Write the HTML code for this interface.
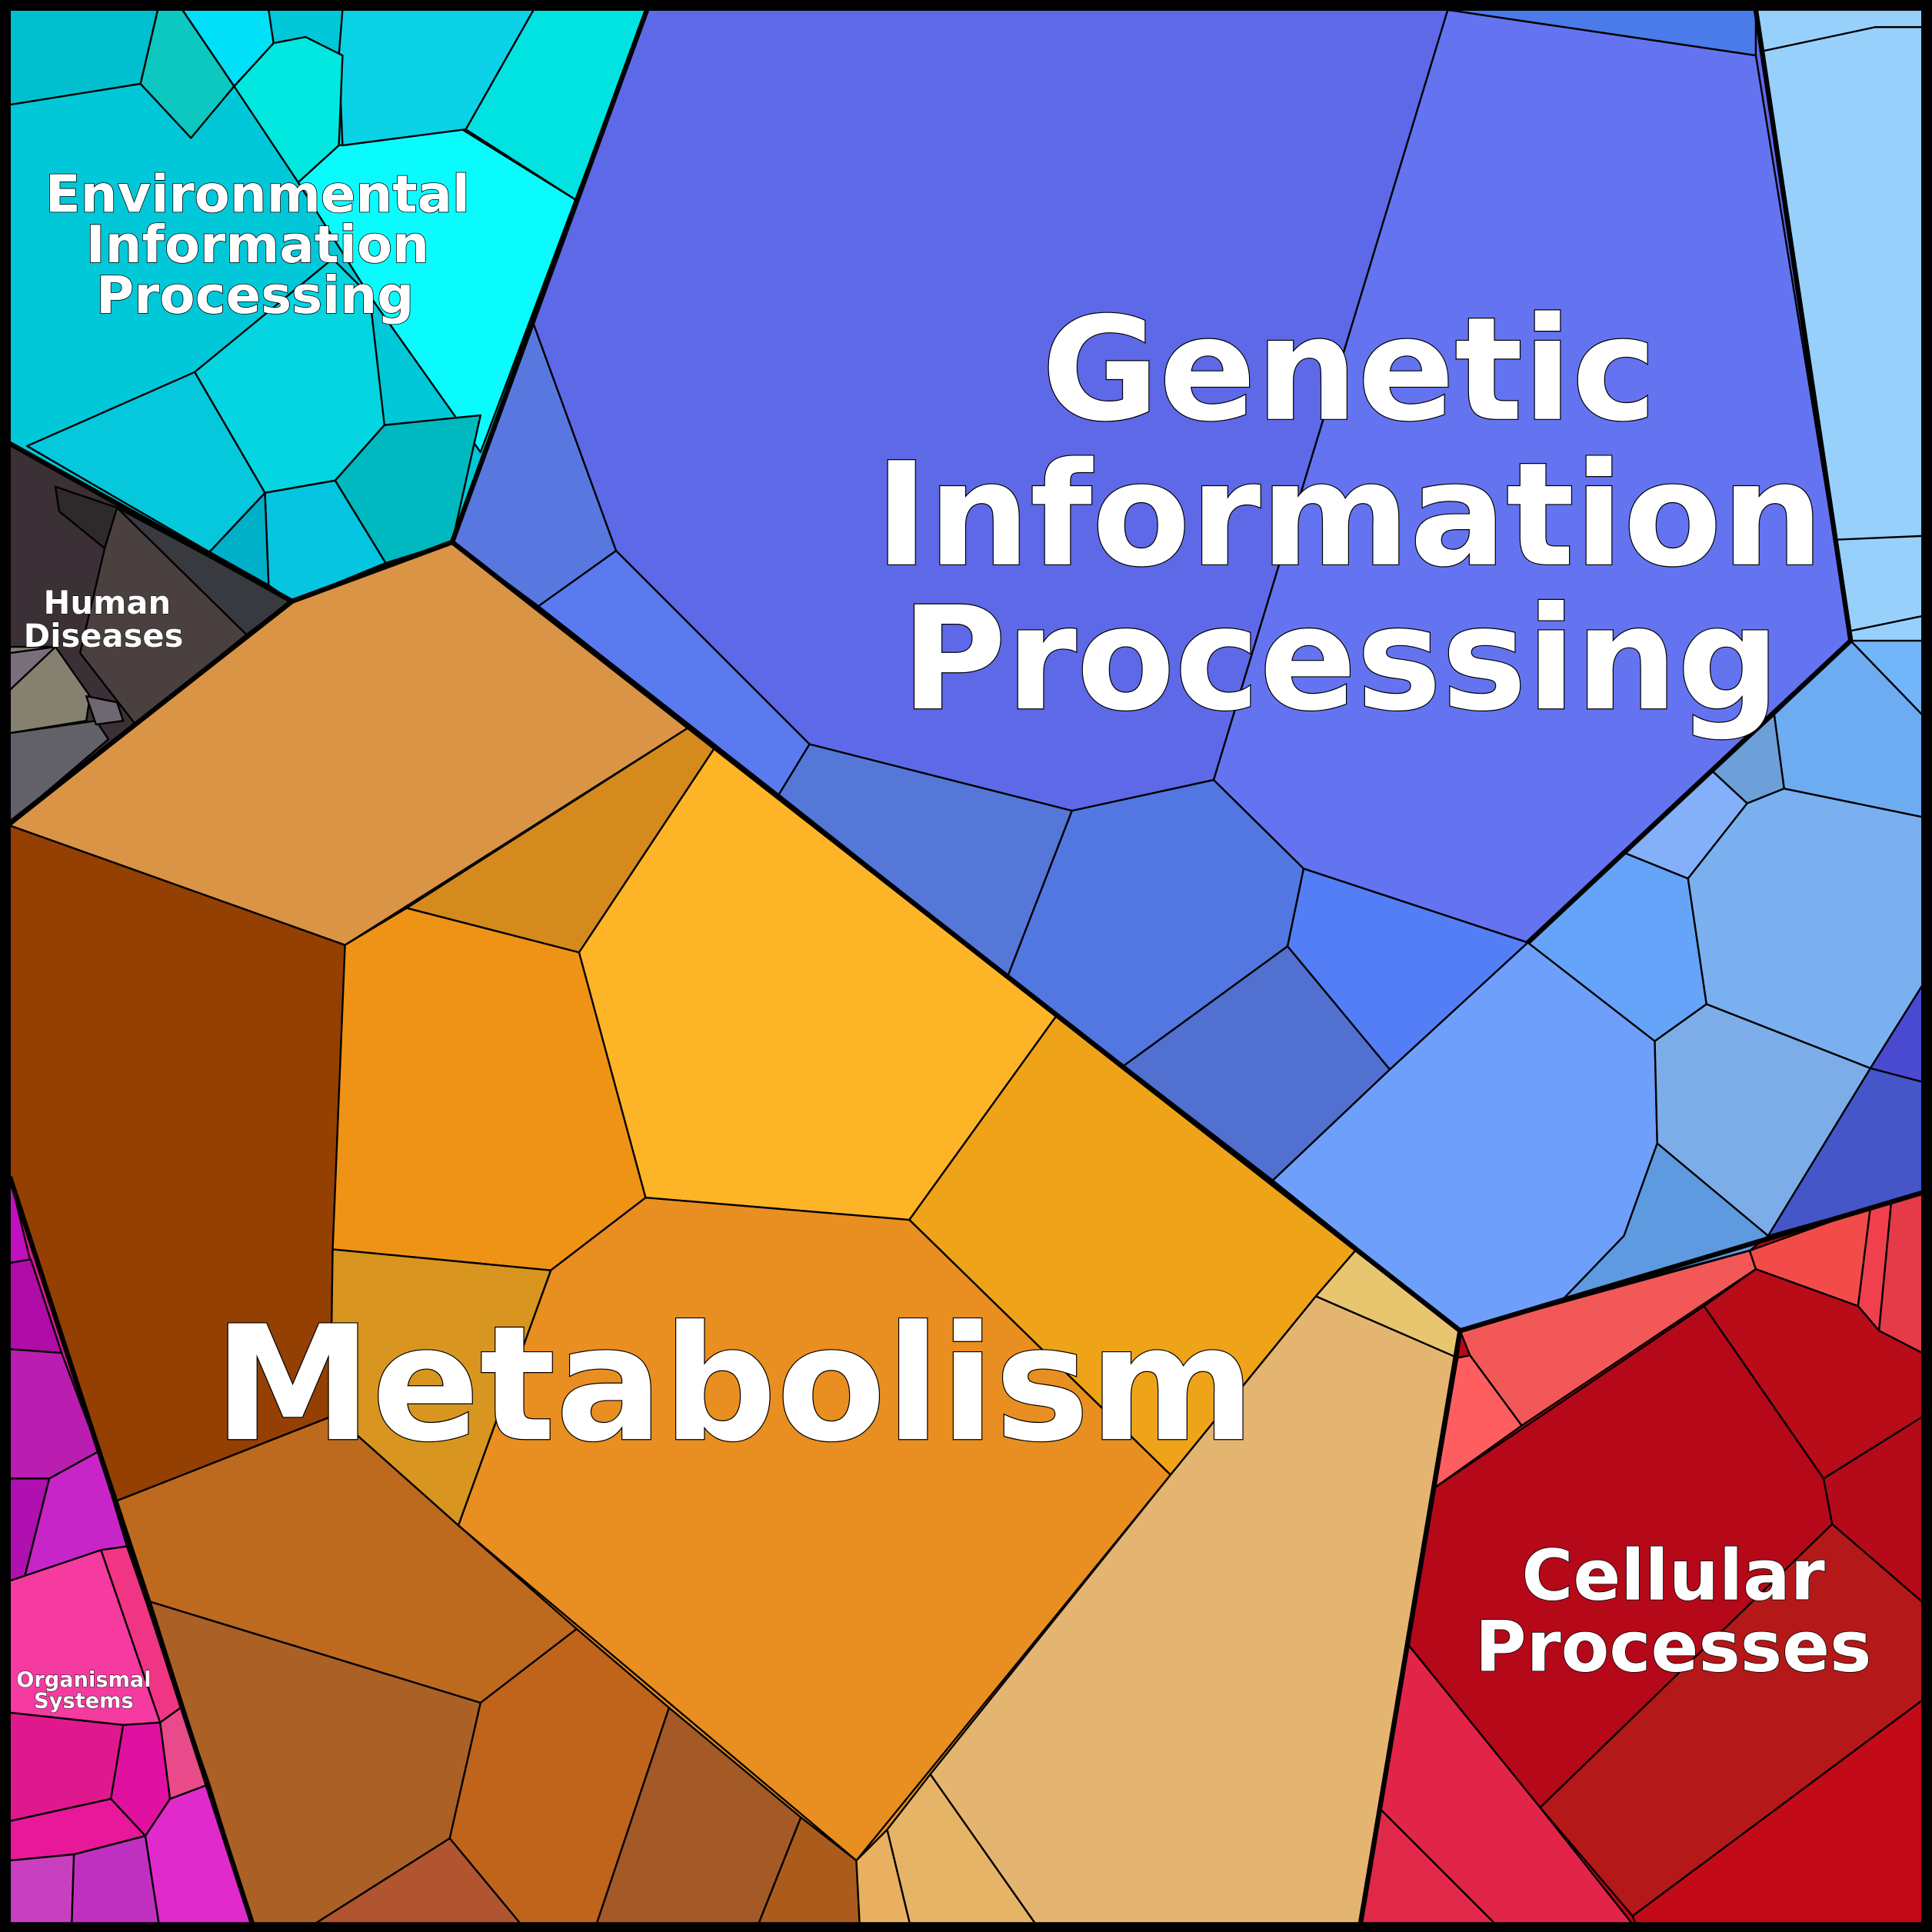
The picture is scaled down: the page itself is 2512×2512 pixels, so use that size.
<!DOCTYPE html>
<html><head><meta charset="utf-8"><style>
html,body{margin:0;padding:0;background:#000;}
svg{display:block;}
text{font-family:"DejaVu Sans","Liberation Sans",sans-serif;font-weight:bold;fill:#fff;stroke:#000;paint-order:stroke;text-anchor:middle;}
</style></head><body>
<svg xmlns="http://www.w3.org/2000/svg" width="2512" height="2512" viewBox="0 0 1568 1568">
<rect x="0" y="0" width="1568" height="1568" fill="#000"/>
<!-- base region fills -->
<polygon fill="#00C8D8" points="8,8 525,8 367,440 237,488 8,360"/>
<polygon fill="#5E69E8" points="525,8 1560,8 1560,968 1185,1080 367,440"/>
<polygon fill="#E98E20" points="8,668 237,488 367,440 1185,1080 1103,1568 207,1568 8,955"/>
<polygon fill="#B50818" points="1185,1080 1560,968 1560,1568 1103,1568"/>
<polygon fill="#E0188E" points="8,955 207,1568 8,1568"/>
<g stroke="#000" stroke-width="1.5" stroke-linejoin="round">
<!-- Environmental -->
<polygon fill="#00C8D8" points="8,8 525,8 367,440 237,488 8,360"/>
<polygon fill="#0AFBFE" points="242,148 275,118 375,105 467,162 390,367 300,240"/>
<polygon fill="#00E3E0" points="378,105 433,8 525,8 467,162"/>
<polygon fill="#0CD2E8" points="278,8 433,8 378,105 278,118 275,45"/>
<polygon fill="#00E8E0" points="190,70 222,35 248,30 278,45 275,118 242,148"/>
<polygon fill="#00E0F8" points="148,8 218,8 222,35 190,70"/>
<polygon fill="#0CC8C0" points="114,68 128,8 148,8 190,70 155,112"/>
<polygon fill="#00C0D0" points="8,8 128,8 114,68 8,85"/>
<polygon fill="#05D5E0" points="158,302 215,400 272,390 312,345 300,240 270,210"/>
<polygon fill="#00B8C0" points="272,390 312,345 390,337 367,440 313,457"/>
<polygon fill="#05C5E0" points="215,400 272,390 313,457 237,488 218,475"/>
<polygon fill="#00B0C8" points="170,448 215,400 218,475"/>
<polygon fill="#05C8DC" points="22,362 158,302 215,400 170,448"/>
<!-- Human Diseases -->
<polygon fill="#3A3035" points="8,360 237,488 8,668"/>
<polygon fill="#2E2A2C" points="45,395 95,412 85,445 48,415"/>
<polygon fill="#4A4040" points="95,412 200,515 110,588 65,530 85,445"/>
<polygon fill="#383A40" points="95,412 237,488 200,515"/>
<polygon fill="#858070" points="8,525 45,525 73,565 70,585 8,595"/>
<polygon fill="#7A6E7C" points="8,530 45,525 8,560"/>
<polygon fill="#626068" points="8,595 78,585 88,600 8,668"/>
<polygon fill="#6E6870" points="70,565 95,570 100,585 78,588"/>
<!-- Metabolism -->
<polygon fill="#DA9445" points="8,670 237,488 367,440 558,591 280,767"/>
<polygon fill="#934002" points="8,670 280,767 268,1150 95,1218 8,955"/>
<polygon fill="#D58A1E" points="330,737 558,591 580,607 470,773"/>
<polygon fill="#EF9316" points="280,767 330,737 470,773 524,972 447,1031 270,1014"/>
<polygon fill="#FDB527" points="470,773 580,607 857,825 738,990 524,972"/>
<polygon fill="#EEA318" points="857,825 1100,1015 1068,1052 950,1197 738,990"/>
<polygon fill="#E98E20" points="447,1031 524,972 738,990 950,1197 695,1510 372,1238"/>
<polygon fill="#D89520" points="270,1014 447,1031 372,1238 290,1165 268,1150"/>
<polygon fill="#BD6A1F" points="95,1218 268,1150 290,1165 372,1238 468,1322 390,1382 122,1300"/>
<polygon fill="#AB6026" points="122,1300 390,1382 365,1492 245,1568 207,1568"/>
<polygon fill="#C0641C" points="390,1382 468,1322 543,1386 482,1568 428,1568 365,1492"/>
<polygon fill="#B05530" points="245,1568 365,1492 428,1568"/>
<polygon fill="#A35A26" points="543,1386 650,1475 613,1568 482,1568"/>
<polygon fill="#AB5C1C" points="650,1475 695,1510 698,1568 613,1568"/>
<polygon fill="#E4B571" points="1068,1052 1183,1102 1103,1568 845,1568 755,1440 950,1197"/>
<polygon fill="#E8C66F" points="1100,1015 1185,1080 1183,1102 1068,1052"/>
<polygon fill="#E6B466" points="755,1440 845,1568 740,1568 720,1485"/>
<polygon fill="#E8B060" points="695,1510 720,1485 740,1568 698,1568"/>
<!-- Genetic -->
<polygon fill="#5E69E8" points="525,8 1175,8 985,633 870,658 657,604 500,447 433,263"/>
<polygon fill="#6474F0" points="1175,8 1425,45 1502,520 1240,765 1058,705 985,633"/>
<polygon fill="#4A7BE8" points="1175,8 1425,8 1425,45"/>
<polygon fill="#5878E0" points="433,263 500,447 437,492 367,440"/>
<polygon fill="#5A7BF0" points="437,492 500,447 657,604 632,645"/>
<polygon fill="#5577D8" points="632,645 657,604 870,658 818,792"/>
<polygon fill="#5277E0" points="870,658 985,633 1058,705 1045,768 912,865 818,792"/>
<polygon fill="#5170D0" points="912,865 1045,768 1128,868 1033,958"/>
<polygon fill="#547EF5" points="1058,705 1240,765 1128,868 1045,768"/>
<polygon fill="#6EA0FB" points="1240,765 1343,845 1345,928 1318,1003 1268,1055 1185,1080 1033,958 1128,868"/>
<polygon fill="#65A4F8" points="1240,765 1318,692 1370,713 1385,815 1343,845"/>
<polygon fill="#84B0FA" points="1318,692 1390,626 1418,652 1370,713"/>
<polygon fill="#6D9FD8" points="1390,626 1440,580 1448,640 1418,652"/>
<polygon fill="#7AB0F0" points="1370,713 1418,652 1448,640 1560,663 1560,800 1518,867 1385,815"/>
<polygon fill="#7CADE9" points="1343,845 1385,815 1518,867 1435,1003 1345,928"/>
<polygon fill="#5E9AE0" points="1345,928 1435,1003 1420,1015 1268,1055 1318,1003"/>
<polygon fill="#6EACF2" points="1440,580 1502,520 1560,580 1560,663 1448,640"/>
<polygon fill="#72B6FA" points="1502,520 1530,512 1560,520 1560,580"/>
<polygon fill="#98D0FC" points="1425,8 1560,8 1560,520 1502,520"/>
<polyline fill="none" points="1490,438 1560,435"/>
<polyline fill="none" points="1502,512 1560,500"/>
<polyline fill="none" points="1428,42 1522,22 1560,22"/>
<polygon fill="#4456C8" points="1560,800 1560,968 1435,1003 1518,867"/>
<polygon fill="#4A4AD0" points="1518,867 1560,800 1560,878"/>
<!-- Organismal -->
<polygon fill="#C010C0" points="8,955 25,1025 8,1025"/>
<polygon fill="#B00CA8" points="8,1025 25,1022 50,1098 8,1095"/>
<polygon fill="#BA1EB0" points="8,1095 50,1098 80,1178 40,1200 8,1200"/>
<polygon fill="#B010B0" points="8,1200 40,1200 20,1280 8,1283"/>
<polygon fill="#C825C8" points="40,1200 80,1178 103,1255 20,1280"/>
<polygon fill="#F53AA0" points="8,1283 82,1258 130,1398 100,1400 8,1390"/>
<polygon fill="#F03585" points="82,1258 103,1255 148,1385 130,1398"/>
<polygon fill="#E0188E" points="8,1390 100,1400 90,1460 8,1478"/>
<polygon fill="#E011A0" points="100,1400 130,1398 138,1460 118,1490 90,1460"/>
<polygon fill="#E84A8A" points="130,1398 148,1385 170,1448 138,1460"/>
<polygon fill="#E8189A" points="8,1478 90,1460 118,1490 60,1505 8,1510"/>
<polygon fill="#C840C0" points="8,1510 60,1505 58,1568 8,1568"/>
<polygon fill="#C030C0" points="60,1505 118,1490 130,1568 58,1568"/>
<polygon fill="#E02ACC" points="118,1490 138,1460 170,1448 207,1568 130,1568"/>
<!-- Cellular -->
<polygon fill="#F25858" points="1185,1080 1420,1015 1425,1030 1235,1157 1193,1100"/>
<polygon fill="#FF5E60" points="1193,1100 1235,1157 1165,1207 1183,1102"/>
<polygon fill="#F24C4A" points="1420,1015 1518,980 1508,1060 1425,1030"/>
<polygon fill="#F0404E" points="1518,980 1535,975 1525,1080 1508,1060"/>
<polygon fill="#E53A48" points="1535,975 1560,968 1560,1098 1525,1080"/>
<polygon fill="#B50818" points="1165,1207 1383,1060 1480,1200 1487,1237 1250,1467 1143,1335"/>
<polygon fill="#B80C18" points="1425,1030 1508,1060 1525,1080 1560,1098 1560,1150 1480,1200 1383,1060"/>
<polygon fill="#B50A1A" points="1480,1200 1560,1150 1560,1300 1487,1237"/>
<polygon fill="#B51818" points="1487,1237 1560,1300 1560,1380 1325,1555 1250,1467"/>
<polygon fill="#C20A18" points="1325,1555 1560,1380 1560,1568 1330,1568"/>
<polygon fill="#E22448" points="1143,1335 1250,1467 1330,1568 1220,1568 1120,1468"/>
<polygon fill="#E02848" points="1120,1468 1220,1568 1103,1568"/>
</g>
<!-- region boundaries -->
<g fill="none" stroke="#000" stroke-width="4" stroke-linejoin="round">
<polyline points="525,8 367,440 237,488 8,360"/>
<polyline points="237,488 8,668"/>
<polyline points="367,440 1185,1080 1103,1568"/>
<polyline points="1185,1080 1560,968"/>
<polyline points="1425,8 1502,520 1240,765"/>
<polyline points="8,955 207,1568"/>
</g>
<rect x="4" y="4" width="1560" height="1560" fill="none" stroke="#000" stroke-width="8"/>
<g stroke-width="1.5">
<text x="1095" y="340" font-size="116">Genetic</text>
<text x="1095" y="458" font-size="116">Information</text>
<text x="1088" y="575" font-size="116">Processing</text>
<text x="596" y="1168" font-size="129">Metabolism</text>
</g>
<g stroke-width="1">
<text x="209" y="172" font-size="42">Environmental</text>
<text x="209" y="213" font-size="42">Information</text>
<text x="207" y="254" font-size="42">Processing</text>
<text x="1358" y="1298" font-size="57">Cellular</text>
<text x="1358" y="1356" font-size="57">Processes</text>
</g>
<g stroke-width="0.6">
<text x="87" y="498" font-size="26">Human</text>
<text x="84" y="525" font-size="26">Diseases</text>
<text x="68" y="1369" font-size="17">Organismal</text>
<text x="68" y="1386" font-size="17">Systems</text>
</g>
</svg>
</body></html>
